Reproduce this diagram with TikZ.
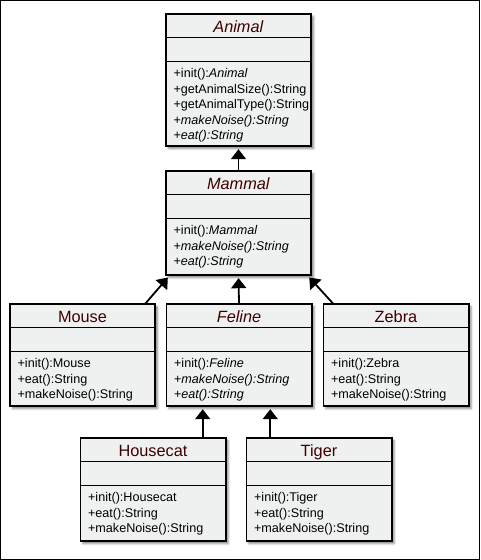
\documentclass[tikz,border=0pt]{standalone}
\usepackage{fontspec}
\setmainfont{Liberation Sans}
\usetikzlibrary{shadows.blur,arrows.meta}

\definecolor{classfill}{RGB}{239,241,240}
\definecolor{classname}{RGB}{64,0,0}

\newcommand{\opstrut}{\vrule height 11pt depth 0pt width 0pt}

\tikzset{
  classbox/.style={draw,line width=1.6pt,fill=classfill,minimum width=145.4pt,
    inner sep=0pt,outer sep=0pt,
    blur shadow={shadow xshift=2.5pt,shadow yshift=-2.5pt,shadow blur radius=2pt,shadow opacity=45}},
  classtitle/.style={anchor=base,text=classname,font=\fontsize{16.3}{18}\selectfont},
  classops/.style={anchor=north west,inner sep=0pt,align=left,font=\fontsize{12.6}{15.5}\selectfont},
  classrule/.style={line width=1.6pt},
  inherits/.style={line width=1.8pt,-{Triangle[width=15pt,length=10pt]},shorten >=3pt},
}

\begin{document}
\begin{tikzpicture}[x=1pt,y=-1pt]
\useasboundingbox (0,0) rectangle (480,560);
\draw[line width=1pt] (0.5,0.5) rectangle (479.5,559.5);

% class boxes
\node (animal) at (238.5,80) [classbox,minimum height=132.4pt] {};
\node (mammal) at (238.5,223) [classbox,minimum height=104.4pt] {};
\node (mouse) at (82.5,355) [classbox,minimum height=102.4pt] {};
\node (feline) at (239,355) [classbox,minimum height=102.4pt] {};
\node (zebra) at (396,355) [classbox,minimum height=102.4pt] {};
\node (housecat) at (153,489.5) [classbox,minimum height=103.4pt] {};
\node (tiger) at (319,489.5) [classbox,minimum height=103.4pt] {};

\foreach \c in {animal,mammal,mouse,feline,zebra,housecat,tiger}{
  \draw[classrule] ([yshift=-23.7pt]\c.north west) -- ([yshift=-23.7pt]\c.north east);
  \draw[classrule] ([yshift=-47.7pt]\c.north west) -- ([yshift=-47.7pt]\c.north east);
}

% names
\node (animal name) at ([yshift=-18.5pt]animal.north) [classtitle] {\textit{Animal}};
\node (mammal name) at ([yshift=-18.5pt]mammal.north) [classtitle] {\textit{Mammal}};
\node (mouse name) at ([yshift=-18.5pt]mouse.north) [classtitle] {Mouse};
\node (feline name) at ([yshift=-18.5pt]feline.north) [classtitle] {\textit{Feline}};
\node (zebra name) at ([yshift=-18.5pt]zebra.north) [classtitle] {Zebra};
\node (housecat name) at ([yshift=-18.5pt]housecat.north) [classtitle] {Housecat};
\node (tiger name) at ([yshift=-18.5pt]tiger.north) [classtitle] {Tiger};

% operations
\node (animal ops) at ([xshift=7.6pt,yshift=-52.5pt]animal.north west) [classops]
  {\opstrut+init():\textit{Animal}\\+getAnimalSize():String\\+getAnimalType():String\\+\textit{makeNoise():String}\\+\textit{eat():String}};
\node (mammal ops) at ([xshift=7.6pt,yshift=-52.5pt]mammal.north west) [classops]
  {\opstrut+init():\textit{Mammal}\\+\textit{makeNoise():String}\\+\textit{eat():String}};
\node (mouse ops) at ([xshift=7.6pt,yshift=-52.5pt]mouse.north west) [classops]
  {\opstrut+init():Mouse\\+eat():String\\+makeNoise():String};
\node (feline ops) at ([xshift=7.6pt,yshift=-52.5pt]feline.north west) [classops]
  {\opstrut+init():\textit{Feline}\\+\textit{makeNoise():String}\\+\textit{eat():String}};
\node (zebra ops) at ([xshift=7.6pt,yshift=-52.5pt]zebra.north west) [classops]
  {\opstrut+init():Zebra\\+eat():String\\+makeNoise():String};
\node (housecat ops) at ([xshift=7.6pt,yshift=-52.5pt]housecat.north west) [classops]
  {\opstrut+init():Housecat\\+eat():String\\+makeNoise():String};
\node (tiger ops) at ([xshift=7.6pt,yshift=-52.5pt]tiger.north west) [classops]
  {\opstrut+init():Tiger\\+eat():String\\+makeNoise():String};

% generalisation arrows
\draw[inherits] (mammal.north) -- (animal.south);
\draw[inherits] (feline.north) -- (mammal.south);
\draw[inherits] ([xshift=-10pt]mouse.north east) -- ([xshift=4pt]mammal.south west);
\draw[inherits] ([xshift=10pt]zebra.north west) -- ([xshift=-4pt]mammal.south east);
\draw[inherits] ([xshift=-23pt]housecat.north east) -- ([xshift=-23pt]housecat.north east |- feline.south);
\draw[inherits] ([xshift=24pt]tiger.north west) -- ([xshift=24pt]tiger.north west |- feline.south);

\end{tikzpicture}
\end{document}
